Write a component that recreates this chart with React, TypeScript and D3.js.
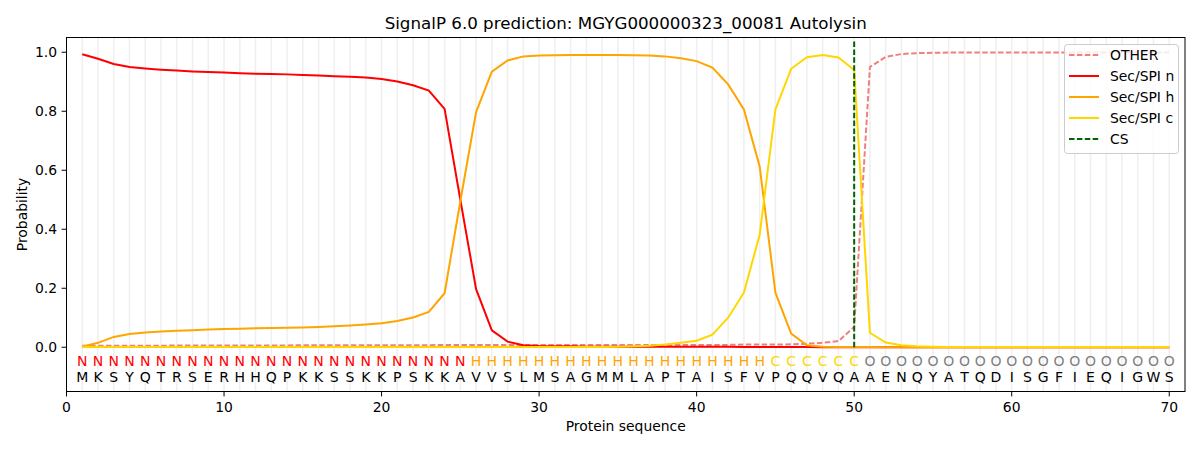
import * as d3 from 'd3';

const title = 'SignalP 6.0 prediction: MGYG000000323_00081 Autolysin';

const sequence = 'MKSYQTRSERHHQPKKSSKKPSKKAVVSLMSAGMMLAPTAISFVPQQVQAAENQYATQDISGFIEQIGWS'.split('');
const regionLabels = ('N'.repeat(25) + 'H'.repeat(19) + 'C'.repeat(6) + 'O'.repeat(20)).split('');

const otherProb = [
  0.005, 0.005, 0.005, 0.005, 0.005, 0.005, 0.006, 0.006, 0.006, 0.006,
  0.006, 0.006, 0.006, 0.006, 0.007, 0.007, 0.007, 0.007, 0.007, 0.007,
  0.007, 0.007, 0.007, 0.008, 0.008, 0.008, 0.008, 0.008, 0.008, 0.008,
  0.008, 0.008, 0.008, 0.008, 0.008, 0.008, 0.008, 0.008, 0.008, 0.008,
  0.008, 0.008, 0.009, 0.009, 0.009, 0.010, 0.012, 0.015, 0.021, 0.069,
  0.950, 0.984, 0.994, 0.997, 0.998, 0.999, 0.999, 0.999, 0.999, 0.999,
  0.999, 0.999, 0.999, 0.999, 0.999, 0.999, 0.999, 0.999, 0.999, 0.999,
];

const secN = [
  0.993, 0.978, 0.960, 0.950, 0.945, 0.941, 0.938, 0.935, 0.933, 0.931,
  0.929, 0.927, 0.926, 0.925, 0.923, 0.921, 0.919, 0.917, 0.914, 0.909,
  0.901, 0.888, 0.870, 0.808, 0.500, 0.197, 0.057, 0.019, 0.007, 0.004,
  0.003, 0.003, 0.002, 0.002, 0.002, 0.002, 0.002, 0.002, 0.002, 0.002,
  0.002, 0.002, 0.001, 0.001, 0.001, 0.001, 0.001, 0.000, 0.000, 0.000,
  0, 0, 0, 0, 0, 0, 0, 0, 0, 0,
  0, 0, 0, 0, 0, 0, 0, 0, 0, 0,
];

const secH = [
  0.002, 0.015, 0.035, 0.045, 0.050, 0.053, 0.056, 0.058, 0.060, 0.062,
  0.063, 0.064, 0.065, 0.066, 0.067, 0.069, 0.071, 0.074, 0.077, 0.081,
  0.089, 0.101, 0.120, 0.183, 0.495, 0.797, 0.934, 0.972, 0.986, 0.989,
  0.990, 0.991, 0.991, 0.991, 0.991, 0.990, 0.989, 0.986, 0.980, 0.970,
  0.948, 0.891, 0.806, 0.613, 0.185, 0.046, 0.007, 0.002, 0.001, 0.001,
  0.001, 0, 0, 0, 0, 0, 0, 0, 0, 0,
  0, 0, 0, 0, 0, 0, 0, 0, 0, 0,
];

const secC = [
  0.001, 0.001, 0.001, 0.001, 0.001, 0.001, 0.001, 0.001, 0.001, 0.001,
  0.001, 0.001, 0.001, 0.001, 0.001, 0.001, 0.001, 0.001, 0.001, 0.001,
  0.001, 0.001, 0.001, 0.001, 0.001, 0.001, 0.001, 0.001, 0.001, 0.001,
  0.001, 0.001, 0.001, 0.001, 0.002, 0.003, 0.005, 0.009, 0.015, 0.022,
  0.043, 0.100, 0.185, 0.381, 0.806, 0.944, 0.983, 0.991, 0.982, 0.940,
  0.049, 0.016, 0.007, 0.003, 0.002, 0.001, 0.001, 0.001, 0.001, 0.001,
  0.001, 0.001, 0.001, 0.001, 0.001, 0.001, 0.001, 0.001, 0.001, 0.001,
];

const cleavageSite = 50;
const xTicks = [0, 10, 20, 30, 40, 50, 60, 70];
const yTicks = [0, 0.2, 0.4, 0.6, 0.8, 1.0];

const series = [
  { name: 'OTHER', values: otherProb, color: '#f08080', dash: '5.5,2.4' },
  { name: 'Sec/SPI n', values: secN, color: '#ff0000', dash: null },
  { name: 'Sec/SPI h', values: secH, color: '#ffa500', dash: null },
  { name: 'Sec/SPI c', values: secC, color: '#ffd700', dash: null },
];

const labelColor: Record<string, string> = { N: '#ff0000', H: '#ffa500', C: '#ffd700', O: '#808080' };

const font = '"DejaVu Sans", sans-serif';

export default function App() {
  const width = 1200;
  const height = 450;
  const left = 66.5, right = 1185, top = 37.5, bottom = 391.5;

  const x = d3.scaleLinear().domain([0, 71]).range([left, right]);
  const y = d3.scaleLinear().domain([-0.15, 1.05]).range([bottom, top]);

  const line = d3
    .line<number>()
    .x((_, i) => x(i + 1))
    .y((d) => y(d));

  const positions = d3.range(1, sequence.length + 1);

  return (
    <div style={{ position: 'absolute', left: 0, top: 0 }}>
      <svg width={width} height={height} style={{ display: 'block', background: '#fff' }} fontFamily={font}>
        {/* vertical grid at every residue */}
        {positions.map((p) => (
          <line key={p} x1={x(p)} x2={x(p)} y1={top} y2={bottom} stroke="#efefef" strokeWidth={1.5} />
        ))}

        {series.map((s) => (
          <path
            key={s.name}
            d={line(s.values) || ''}
            fill="none"
            stroke={s.color}
            strokeWidth={2}
            strokeDasharray={s.dash || undefined}
          />
        ))}

        {/* cleavage site */}
        <line
          x1={x(cleavageSite)}
          x2={x(cleavageSite)}
          y1={y(0)}
          y2={y(1.04)}
          stroke="#006400"
          strokeWidth={2}
          strokeDasharray="5.5,2.4"
        />

        {/* residue labels */}
        {positions.map((p, i) => (
          <g key={p}>
            <text x={x(p)} y={366.3} textAnchor="middle" fontSize={14} fill={labelColor[regionLabels[i]]}>
              {regionLabels[i]}
            </text>
            <text x={x(p)} y={381.7} textAnchor="middle" fontSize={14} fill="#000">
              {sequence[i]}
            </text>
          </g>
        ))}

        {/* frame */}
        <rect x={left} y={top} width={right - left} height={bottom - top} fill="none" stroke="#000" strokeWidth={1} />

        {/* x axis */}
        {xTicks.map((t) => (
          <g key={t}>
            <line x1={x(t)} x2={x(t)} y1={bottom} y2={bottom + 4.9} stroke="#000" />
            <text x={x(t)} y={411.5} textAnchor="middle" fontSize={13.9} fill="#000">
              {t}
            </text>
          </g>
        ))}
        <text x={(left + right) / 2} y={431} textAnchor="middle" fontSize={13.9} fill="#000">
          Protein sequence
        </text>

        {/* y axis */}
        {yTicks.map((t) => (
          <g key={t}>
            <line x1={left - 4.9} x2={left} y1={y(t)} y2={y(t)} stroke="#000" />
            <text x={57} y={y(t)} dy="0.35em" textAnchor="end" fontSize={13.9} fill="#000">
              {t.toFixed(1)}
            </text>
          </g>
        ))}
        <text
          transform={`translate(26.5, ${(top + bottom) / 2}) rotate(-90)`}
          textAnchor="middle"
          fontSize={13.9}
          fill="#000"
        >
          Probability
        </text>

        <text x={(left + right) / 2} y={29.3} textAnchor="middle" fontSize={16.7} fill="#000">
          {title}
        </text>

        {/* legend */}
        <g>
          <rect x={1064.5} y={44.5} width={114} height={109} rx={3} fill="#fff" fillOpacity={0.8} stroke="#cccccc" />
          {[...series, { name: 'CS', values: [], color: '#006400', dash: '5.5,2.4' }].map((s, i) => (
            <g key={s.name} transform={`translate(0, ${55 + i * 21})`}>
              <line x1={1069} x2={1099} y1={0} y2={0} stroke={s.color} strokeWidth={2} strokeDasharray={s.dash || undefined} />
              <text x={1110} y={0} dy="0.35em" fontSize={13.9} fill="#000">
                {s.name}
              </text>
            </g>
          ))}
        </g>
      </svg>
    </div>
  );
}
